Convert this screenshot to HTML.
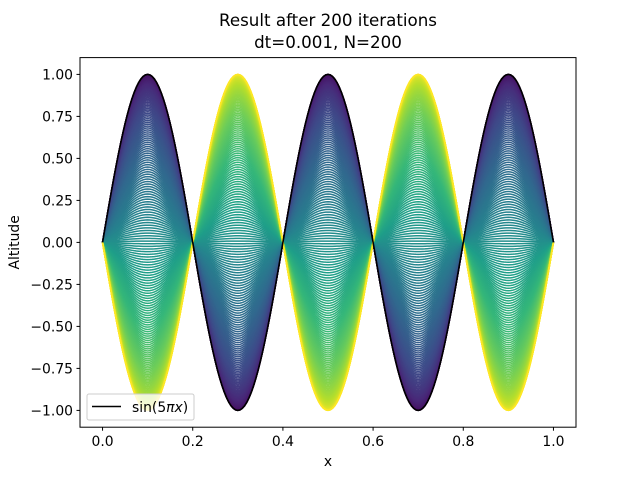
<!DOCTYPE html>
<html><head><meta charset="utf-8"><style>
body{margin:0;background:#fff}
svg{display:block;font-family:"DejaVu Sans","Liberation Sans",sans-serif}
</style></head><body>
<svg id="chart" width="640" height="480" viewBox="0 0 640 480">
<rect x="0" y="0" width="640" height="480" fill="#fff"/>
<text x="328" y="26" text-anchor="middle" font-size="16.7">Result after 200 iterations</text>
<text x="328" y="48" text-anchor="middle" font-size="16.7">dt=0.001, N=200</text>
<g id="curves"></g>
<g id="axes"></g>
</svg>
<script>
const nIterations = 200;
const xTicks = [0, 0.2, 0.4, 0.6, 0.8, 1.0];
const xTickLabels = ["0.0","0.2","0.4","0.6","0.8","1.0"];
const yTicks = [1,0.75,0.5,0.25,0,-0.25,-0.5,-0.75,-1];
const yTickLabels = ["1.00","0.75","0.50","0.25","0.00","\u22120.25","\u22120.50","\u22120.75","\u22121.00"];
const waveNumber = 5;

const L=80,R=576,T=57.6,B=427.2;
const xs=v=>L+(v+0.05)/1.1*(R-L);
const ys=v=>B-(v+1.1)/2.2*(B-T);
const NS="http://www.w3.org/2000/svg";
const vir=[[68,1,84],[72,40,120],[62,74,137],[49,104,142],[38,130,142],[31,158,137],[53,183,121],[109,205,89],[180,222,44],[253,231,37]];
function color(t){const p=t*(vir.length-1),i=Math.min(Math.floor(p),vir.length-2),f=p-i;
 const c=vir[i].map((a,k)=>Math.round(a+(vir[i+1][k]-a)*f));return `rgb(${c})`;}
function mk(tag,attrs,parent){const e=document.createElementNS(NS,tag);for(const k in attrs)e.setAttribute(k,attrs[k]);parent.appendChild(e);return e;}
const curves=document.getElementById('curves');
function pathFor(a){let d="";for(let i=0;i<=200;i++){const x=i/200;d+=(i?"L":"M")+xs(x).toFixed(2)+","+ys(a*Math.sin(waveNumber*Math.PI*x)).toFixed(2);}return d;}
for(let k=0;k<nIterations;k++){
 const t=k/(nIterations-1);
 const p=mk('path',{d:pathFor(Math.cos(Math.PI*t)),fill:'none',stroke:color(t),'stroke-width':1.5},curves);
 
 
}
const ref=mk('path',{d:pathFor(1),fill:'none',stroke:'#000','stroke-width':1.6},curves);


const ax=document.getElementById('axes');
const fr=mk('rect',{x:L,y:T,width:R-L,height:B-T,fill:'none',stroke:'#000','stroke-width':1},ax);


xTicks.forEach((v,i)=>{const x=xs(v);mk('line',{x1:x,x2:x,y1:B,y2:B+3.5,stroke:'#000'},ax);
 const t=mk('text',{x:x,y:B+19,'text-anchor':'middle','font-size':13.9},ax);t.textContent=xTickLabels[i];
 
 });
yTicks.forEach((v,i)=>{const y=ys(v);mk('line',{x1:L-3.5,x2:L,y1:y,y2:y,stroke:'#000'},ax);
 const t=mk('text',{x:L-7,y:y+5,'text-anchor':'end','font-size':13.9},ax);t.textContent=yTickLabels[i];
 
 });
const xl=mk('text',{x:328,y:466,'text-anchor':'middle','font-size':13.9},ax);xl.textContent='x';


const yl=mk('text',{x:0,y:0,'text-anchor':'middle','font-size':13.9,transform:`translate(19,${(T+B)/2}) rotate(-90)`},ax);yl.textContent='Altitude';


const lg=mk('g',{},ax);


mk('rect',{x:87,y:394,width:107,height:26,rx:2,fill:'#fff','fill-opacity':0.8,stroke:'#ccc'},lg);
mk('line',{x1:92,x2:121,y1:406.5,y2:406.5,stroke:'#000','stroke-width':1.6},lg);
const lt=mk('text',{x:132,y:412,'font-size':13.9},lg);
lt.innerHTML='sin(5<tspan font-style="italic">πx</tspan>)';


</script>
</body></html>
